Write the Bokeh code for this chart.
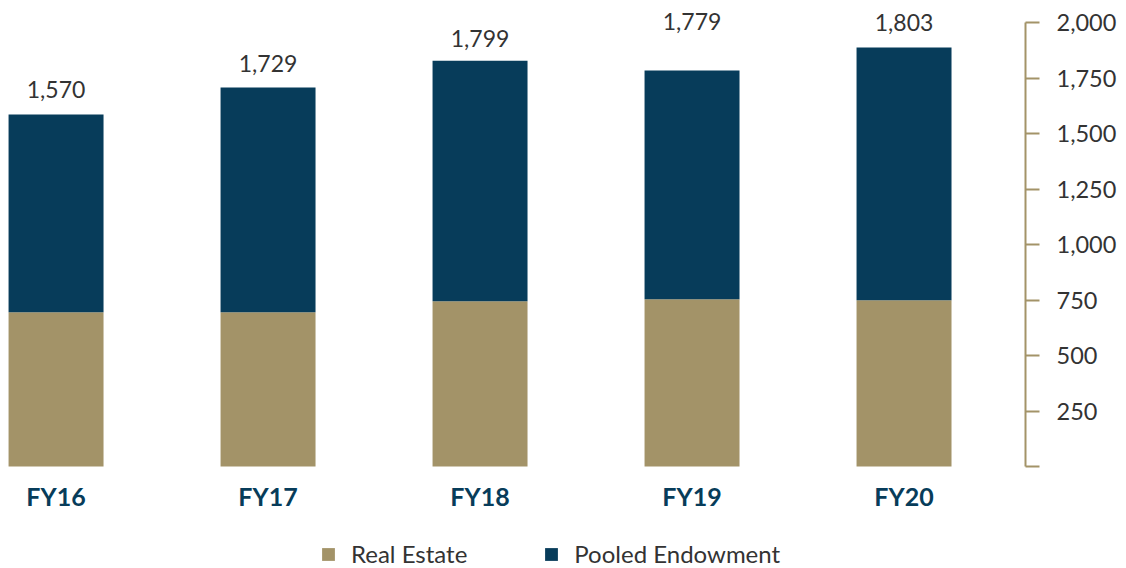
from bokeh.plotting import figure
from bokeh.models import (ColumnDataSource, Range1d, LinearAxis, FixedTicker,
                          NumeralTickFormatter, Legend, LegendItem)
from bokeh.core.properties import value
from bokeh.embed import file_html
from bokeh.resources import INLINE

# ---- data ----
categories = ["FY16", "FY17", "FY18", "FY19", "FY20"]
real_estate = [695, 695, 745, 754, 749]
pooled_endowment = [892, 1013, 1084, 1031, 1140]
total_labels = [1570, 1729, 1799, 1779, 1803]
label_anchor = [1700, 1817, 1929, 2006, 2002]
y_ticks = [0, 250, 500, 750, 1000, 1250, 1500, 1750, 2000]
series_names = ["Real Estate", "Pooled Endowment"]

TAN = "#A39368"
NAVY = "#073C5A"
TEXT = "#333333"
FONT = "Lato"

xs = list(range(len(categories)))
src = ColumnDataSource(dict(
    x=xs,
    real_estate=real_estate,
    pooled=pooled_endowment,
    label=[f"{v:,}" for v in total_labels],
    label_y=label_anchor,
))

# the frame reaches down to the canvas bottom so the legend below the bars is not clipped
p = figure(frame_width=1018, frame_height=561,
           x_range=Range1d(-0.229, 4.573), y_range=Range1d(-459.5, 2069),
           output_backend="svg", toolbar_location=None,
           x_axis_location=None, y_axis_location=None,
           min_border_left=7, min_border_right=0,
           min_border_top=7, min_border_bottom=0)
p.outline_line_color = None
p.xgrid.visible = False
p.ygrid.visible = False
p.background_fill_color = "white"
p.border_fill_color = "white"

renderers = p.vbar_stack(["real_estate", "pooled"], x="x", width=0.448,
                         source=src, color=[TAN, NAVY], line_color=None)

p.text(x="x", y="label_y", text="label", source=src,
       text_align="center", text_baseline="middle",
       text_font=value(FONT), text_font_size="23px", text_color=TEXT)

# right value axis
yaxis = LinearAxis(ticker=FixedTicker(ticks=y_ticks),
                   formatter=NumeralTickFormatter(format="0,0"),
                   bounds=(0, 2000))
yaxis.major_label_overrides = {0: ""}
yaxis.axis_line_color = TAN
yaxis.axis_line_width = 2
yaxis.major_tick_line_color = TAN
yaxis.major_tick_line_width = 2
yaxis.major_tick_in = 0
yaxis.major_tick_out = 14
yaxis.minor_tick_line_color = None
yaxis.major_label_standoff = 17
yaxis.major_label_text_font = FONT
yaxis.major_label_text_font_size = "23.5px"
yaxis.major_label_text_color = TEXT
p.add_layout(yaxis, "right")

# category axis, drawn at the zero line
xaxis = LinearAxis(ticker=FixedTicker(ticks=xs), fixed_location=0)
xaxis.major_label_overrides = {i: c for i, c in zip(xs, categories)}
xaxis.axis_line_color = None
xaxis.major_tick_line_color = None
xaxis.minor_tick_line_color = None
xaxis.major_tick_out = 0
xaxis.major_tick_in = 0
xaxis.major_label_standoff = 14
xaxis.major_label_text_font = FONT
xaxis.major_label_text_font_style = "bold"
xaxis.major_label_text_font_size = "25px"
xaxis.major_label_text_color = NAVY
p.add_layout(xaxis, "below")

legend = Legend(items=[LegendItem(label=n, renderers=[r])
                       for n, r in zip(series_names, renderers)],
                orientation="horizontal", location=(313, 0),
                glyph_width=16, glyph_height=16, label_standoff=15,
                spacing=76, padding=0, margin=0,
                label_text_font=FONT, label_text_font_size="24px",
                label_text_color=TEXT, border_line_color=None,
                background_fill_alpha=0)
p.add_layout(legend, "center")

open("out.html", "w").write(file_html(p, INLINE))
